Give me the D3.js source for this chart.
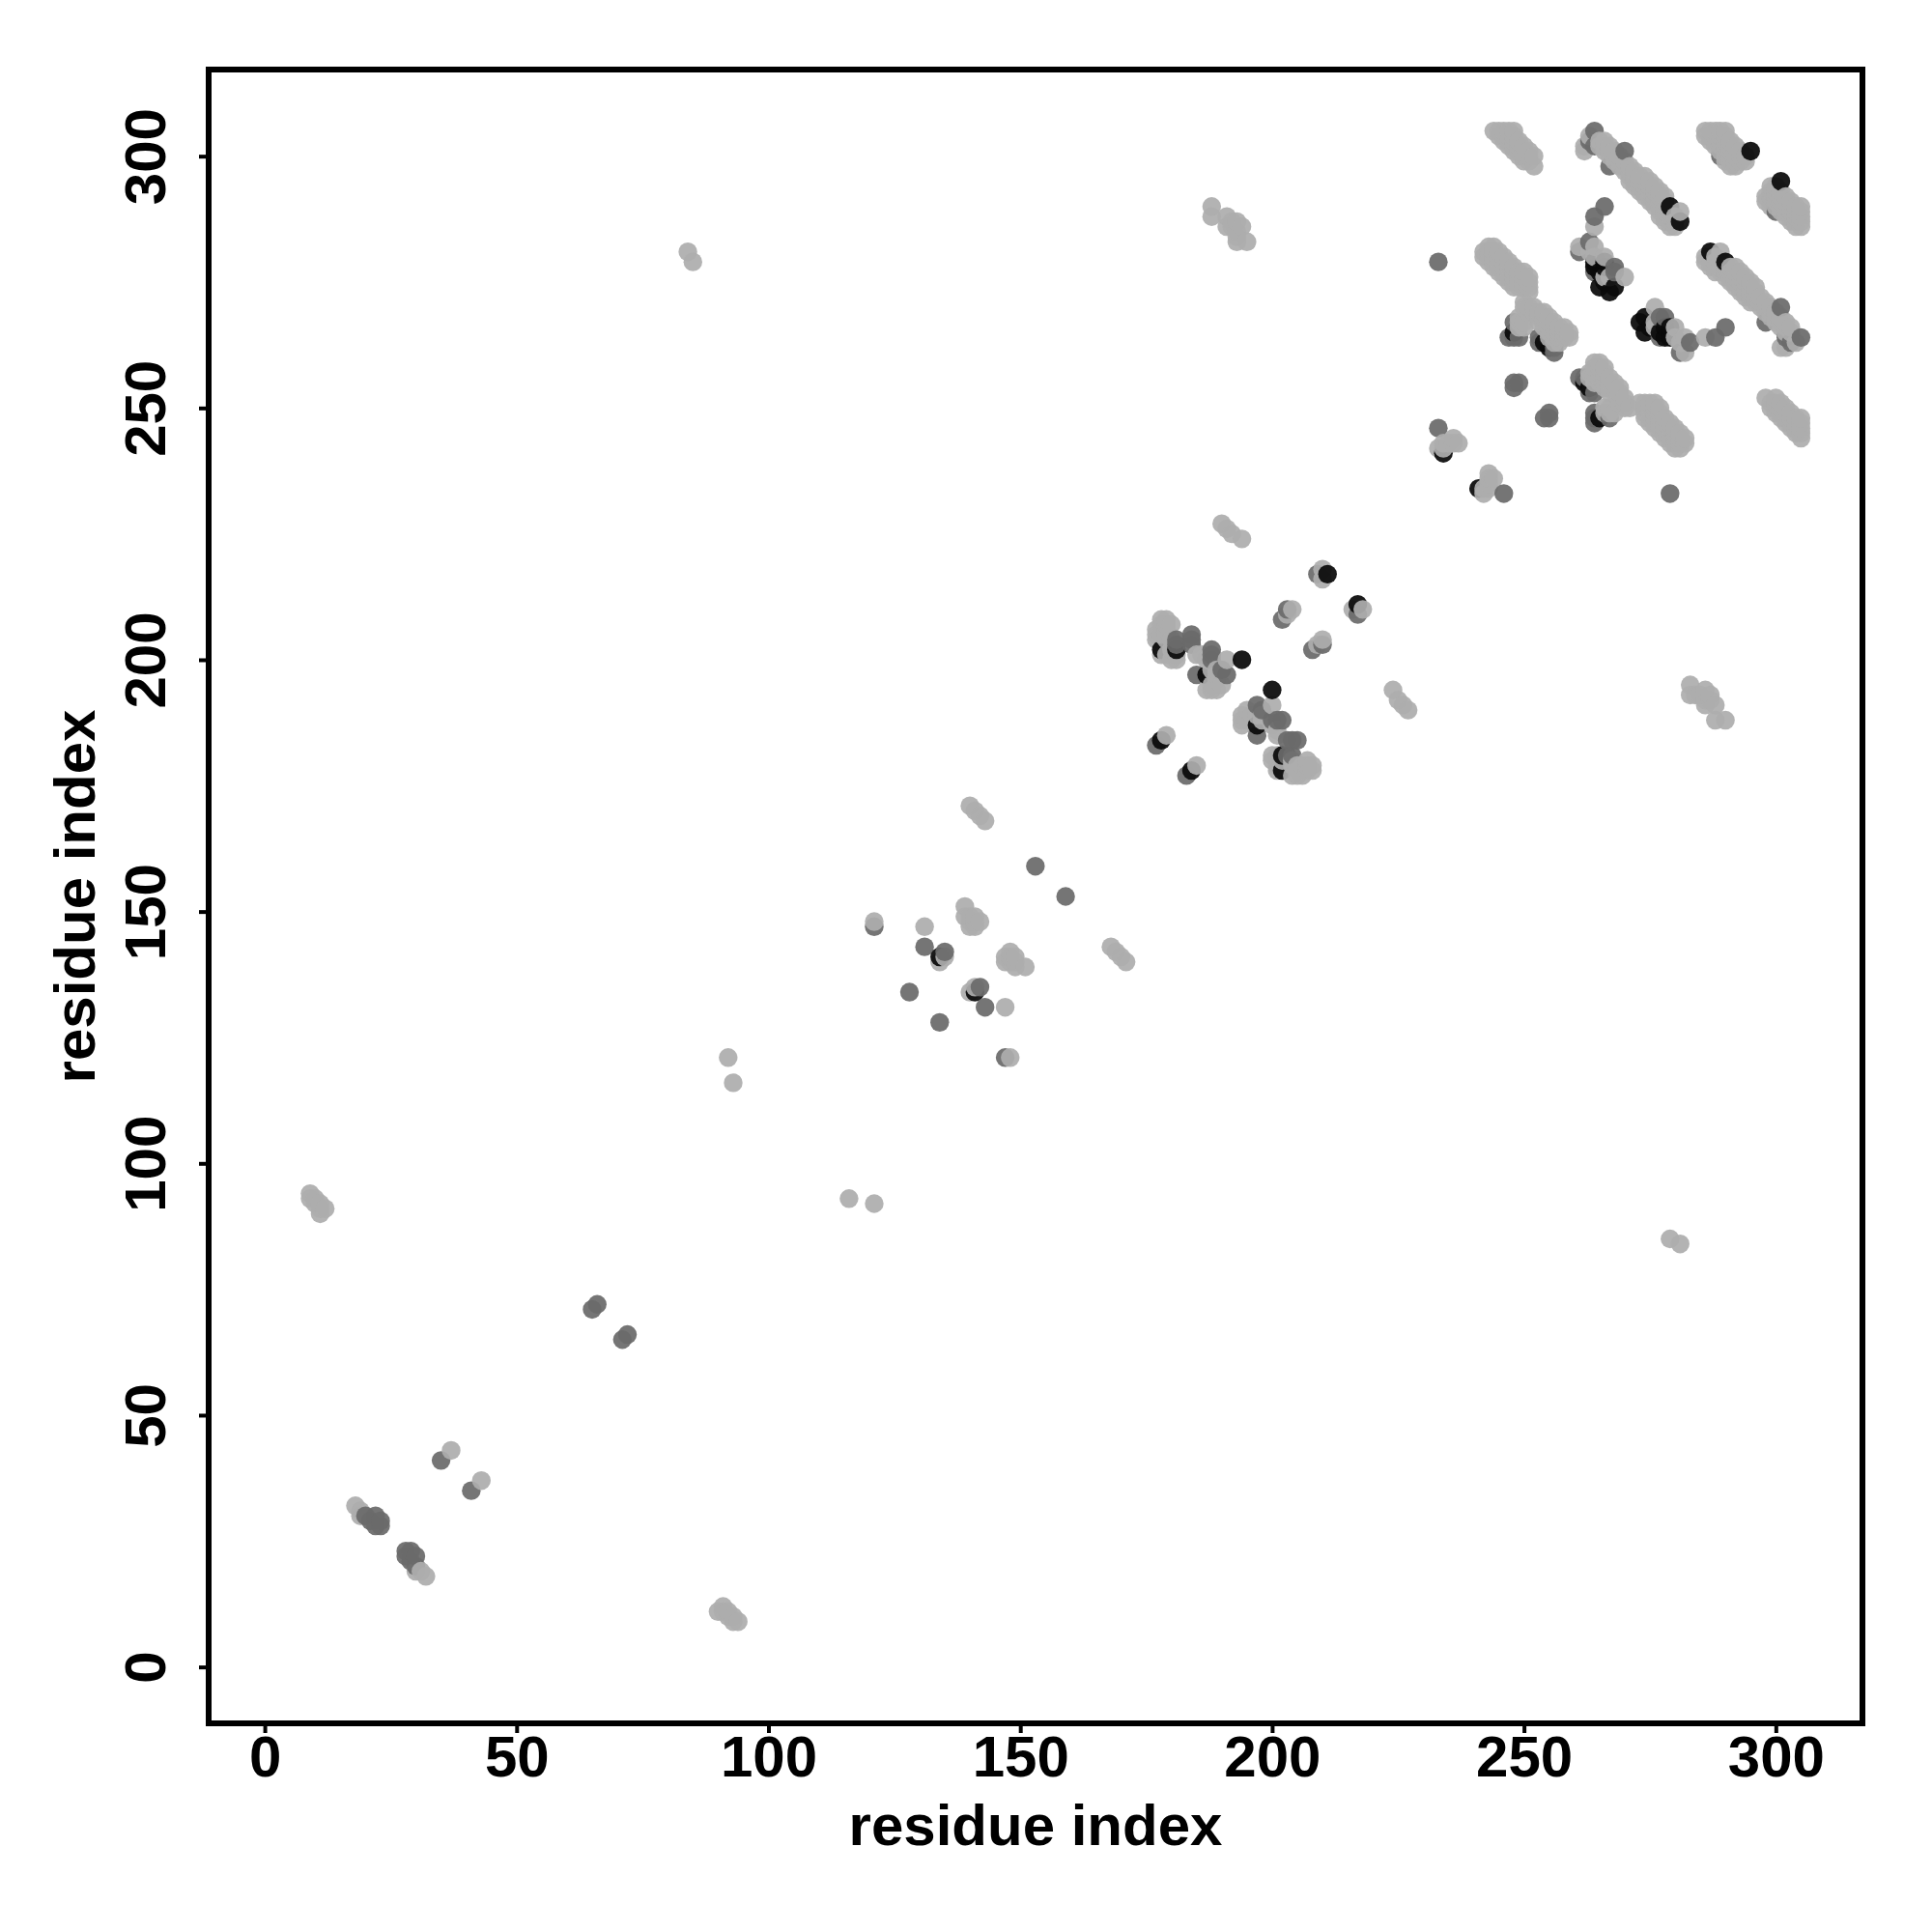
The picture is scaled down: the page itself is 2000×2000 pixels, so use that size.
<!DOCTYPE html>
<html><head><meta charset="utf-8">
<script src="https://cdn.jsdelivr.net/npm/d3@7/dist/d3.min.js"></script>
<style>html,body{margin:0;background:#fff}svg{display:block}text{font-family:"Liberation Sans",Arial,sans-serif;font-weight:700;fill:#000}</style>
</head><body><svg id="c" width="2000" height="2000"></svg>
<script>
const xTicks=[0,50,100,150,200,250,300];
const yTicks=[0,50,100,150,200,250,300];
const xTitle="residue index", yTitle="residue index";
// contact pairs (i<j), mirrored when drawn
const lightPairs=[[9,94],[9,93],[10,93],[10,92],[11,92],[11,91],[11,90],[12,91],[18,32],[19,31],[30,19],[32,18],[37,43],
[84,281],[85,279],[92,121],[93,116],[121,148],[131,147],[134,140],[135,141],[139,151],[139,149],[140,149],[140,148],[140,147],[141,149],[141,148],[141,147],[142,148],
[140,171],[141,170],[142,169],[143,168],
[188,290],[188,288],[191,288],[192,287],[193,287],[194,286],[191,286],[192,286],[193,285],[193,284],[193,283],[195,283],[190,227],[191,226],[192,225],[194,224],
[179,185],[185,179],[177,205],[177,206],[178,208],[179,208],[178,207],[178,205],[179,205],[177,204],[178,201],[179,201],[180,200],[181,200],[180,202],[181,201],[179,204],[180,204],[179,206],[180,207],[179,207],
[185,201],[186,201],[191,200],[187,200],[188,194],[188,195],[189,194],[190,195],[187,194],[189,196],[189,198],[188,198],[189,197],
[203,209],[204,210],[210,216],[210,218],
[233,242],[235,243],[236,243],[237,243],[242,233],[242,234],[243,236],[243,237],[244,236],[243,234],
[244,305],[245,305],[246,305],[247,305],[248,305],[245,304],[246,304],[247,304],[248,304],[246,303],[247,303],[248,303],[249,303],[247,302],[248,302],[249,302],[250,302],[248,301],[249,301],[250,301],[251,301],[249,300],[250,300],[251,300],[252,300],[251,299],[250,299],
[263,304],[265,303],[265,302],[266,303],[266,302],[266,301],[267,302],[267,301],[267,300],[268,301],[268,300],[268,299],[269,300],[269,299],[269,298],[270,299],[270,298],[270,297],[271,298],[271,297],[271,296],[271,295],[272,297],[272,296],[272,295],[272,294],[273,296],[273,295],[273,294],[273,293],[274,296],[274,295],[274,294],[274,293],[274,292],[275,295],[275,294],[275,293],[275,292],[275,291],[276,294],[276,293],[276,292],[276,291],[276,290],[277,293],[277,292],[277,291],[277,290],[277,289],[277,288],[278,292],[278,291],[278,290],[278,289],[278,288],[278,287],[279,289],[279,288],[279,287],[279,286],[280,288],[280,287],[280,286],[281,289],
[286,305],[287,305],[288,305],[289,305],[290,305],[286,304],[287,304],[288,304],[289,304],[290,304],[287,303],[288,303],[289,303],[290,303],[291,303],[288,302],[289,302],[290,302],[291,302],[292,302],[289,301],[290,301],[291,301],[292,301],[293,301],[290,300],[291,300],[292,300],[293,300],[294,300],[290,299],[291,299],[292,299],[293,299],[294,299],[291,298],[292,298],
[242,281],[242,280],[243,282],[243,281],[243,280],[243,279],[244,282],[244,281],[244,280],[244,279],[244,278],[245,281],[245,280],[245,279],[245,278],[245,277],[246,280],[246,279],[246,278],[246,277],[246,276],[247,279],[247,278],[247,277],[247,276],[247,275],[248,278],[248,277],[248,276],[248,275],[248,274],[249,277],[249,276],[249,275],[249,274],[250,277],[250,276],[250,275],[250,274],[251,276],[251,275],[251,274],[251,273],
[250,271],[250,270],[251,270],[251,269],[252,270],[252,269],[253,269],[253,268],[253,267],[254,269],[254,268],[254,267],[254,266],[255,268],[255,267],[255,266],[255,265],[256,267],[256,266],[256,265],[256,264],[257,266],[257,265],[257,264],[257,263],[258,266],[258,265],[258,264],[259,265],[259,264],[249,268],[249,267],[250,267],[250,266],[249,266],[255,264],[256,263],
[261,282],[264,282],[264,286],[270,276],[267,276],[266,276],[264,280],[266,280],[263,281],
[298,252],[301,262],[302,262]];
const midPairs=[[20,30],[22,30],[21,29],[23,29],[22,28],[23,28],[35,41],[65,71],[66,72],
[121,147],[128,134],[131,143],[135,142],[134,128],[143,131],[153,159],
[177,183],[181,203],[181,204],[184,203],[184,204],[184,205],[185,197],[188,202],[188,201],[188,200],[188,198],[191,197],[190,198],
[202,208],[203,210],[209,217],
[233,246],[233,279],[243,235],[248,254],[248,255],[249,255],
[248,264],[249,264],[247,264],[248,267],[253,264],[253,263],[256,262],[256,261],[264,248],[261,256],[263,253],
[263,303],[264,305],[264,302],[270,301],[267,298],[289,300],
[261,281],[263,283],[264,288],[266,290],[268,278],[268,277],[264,277]];
const darkPairs=[[134,141],[178,184],[178,202],[181,202],[187,197],[194,200],[211,217],[234,241],[248,265],[254,263],[255,262],[262,255],[295,301],[279,290],[281,287],[287,281],[264,279],[264,278],[266,279],[266,278],[265,277],[266,275],[268,274],[265,274],[267,273]];
const shades={light:"#adadad",mid:"#6a6a6a",dark:"#0a0a0a"};

const x=d3.scaleLinear().domain([-11.14,317.2]).range([216,1928]);
const y=d3.scaleLinear().domain([-11.2,317.2]).range([1784,72]);
const svg=d3.select("#c");

const seen=new Set(), pts=[];
[[lightPairs,"light"],[midPairs,"mid"],[darkPairs,"dark"]].forEach(([arr,k])=>arr.forEach(([a,b])=>{
  [[a,b],[b,a]].forEach(([p,q])=>{const id=p+"_"+q; if(!seen.has(id)){seen.add(id);pts.push({p,q,k});}});
}));
pts.sort((m,n)=>m.p-n.p||m.q-n.q);
svg.append("g").selectAll("circle").data(pts).join("circle")
 .attr("cx",d=>x(d.p)).attr("cy",d=>y(d.q)).attr("r",9.7)
 .attr("fill",d=>shades[d.k]).attr("fill-opacity",0.93);

const gx=svg.append("g").attr("transform","translate(0,1784)")
 .call(d3.axisBottom(x).tickValues(xTicks).tickFormat(d3.format("d")).tickSize(10).tickSizeOuter(0).tickPadding(0));
const gy=svg.append("g").attr("transform","translate(216,0)")
 .call(d3.axisLeft(y).tickValues(yTicks).tickFormat(d3.format("d")).tickSize(10).tickSizeOuter(0));
[gx,gy].forEach(g=>{g.select(".domain").remove();g.selectAll("line").attr("stroke","#000").attr("stroke-width",4);});
gx.selectAll("text").attr("font-size",60).attr("y",0).attr("dy",0)
 .attr("transform","translate(0,55)").attr("text-anchor","middle");
gy.selectAll("text").attr("font-size",60).attr("x",0).attr("dy",0)
 .attr("text-anchor","middle")
 .attr("transform",d=>`translate(-45,0) rotate(-90)`);
svg.append("rect").attr("x",216).attr("y",72).attr("width",1712).attr("height",1712)
 .attr("fill","none").attr("stroke","#000").attr("stroke-width",6);
svg.append("text").attr("x",1072).attr("y",1910).attr("text-anchor","middle").attr("font-size",60).text(xTitle);
svg.append("text").attr("transform","translate(98,928) rotate(-90)").attr("text-anchor","middle").attr("font-size",60).text(yTitle);
</script></body></html>
